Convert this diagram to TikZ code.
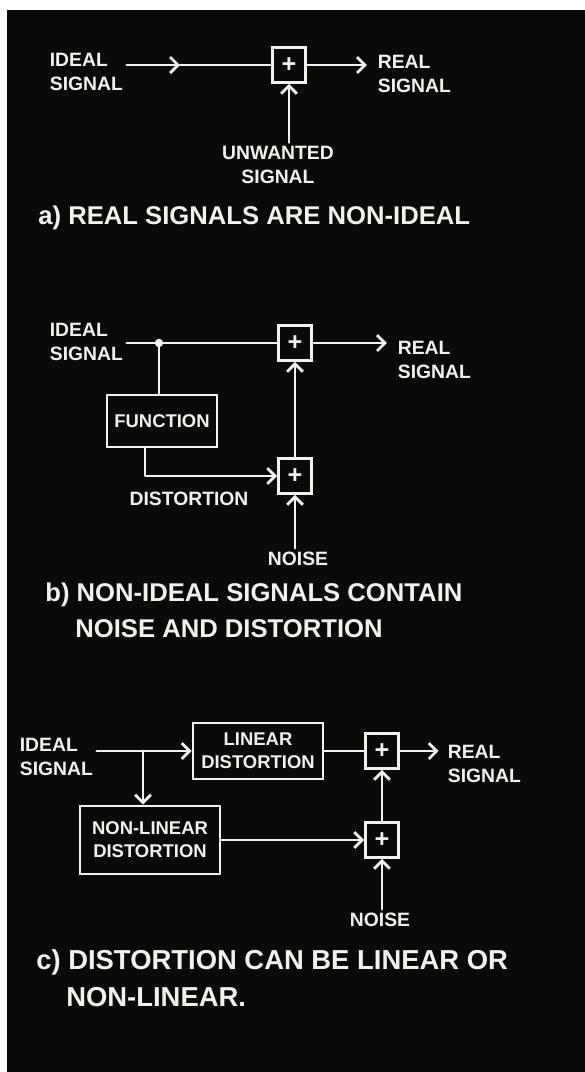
\documentclass[tikz,border=0pt]{standalone}
\usepackage{fontspec}
\setmainfont{Liberation Sans}
\usepackage{tikz}
\usepackage{xcolor}
\definecolor{chalkwhite}{RGB}{242, 242, 236}
\definecolor{boardblack}{RGB}{10, 10, 8}
\usetikzlibrary{arrows.meta,positioning,calc}

\begin{document}
\begin{tikzpicture}[x=0.02cm, y=-0.02cm,
    >={Straight Barb[length=4.5pt,width=9pt]},
    wire/.style={chalkwhite, line width=1.6pt, line cap=round, line join=round},
    lbl/.style={text=chalkwhite, font=\fontsize{11}{13.5}\selectfont\bfseries, align=left, inner sep=2pt},
    captxt/.style={text=chalkwhite, font=\fontsize{14.6}{20.5}\selectfont\bfseries, align=left, anchor=west, inner sep=0pt},
    sumbox/.style={draw=chalkwhite, line width=1.6pt, text=chalkwhite, minimum width=0.66cm, minimum height=0.7cm, inner sep=0pt, font=\Large\bfseries},
    blockbox/.style={draw=chalkwhite, line width=1.6pt, text=chalkwhite, align=center, inner sep=2pt, font=\fontsize{10.5}{13}\selectfont\bfseries}]

    % Board
    \fill[white] (0,0) rectangle (585,1072);
    \fill[boardblack] (7,10) rectangle (585,1072);
    \useasboundingbox (0,0) rectangle (585,1072);

    % a) Ideal signal plus unwanted signal
    \node[lbl, anchor=west] (idealA) at (46,72) {IDEAL\\SIGNAL};
    \node[sumbox] (sumA) at (289,65) {+};
    \node[lbl, anchor=west] (realA) at (374,74) {REAL\\SIGNAL};
    \node[lbl, align=center] (unwA) at (278,165) {UNWANTED\\SIGNAL};
    \coordinate (midA) at (180,65);
    \draw[wire, ->] (idealA.east |- sumA) -- (midA);
    \draw[wire] (midA) -- (sumA.west);
    \draw[wire, ->, shorten >=4pt] (sumA.east) -- (realA.west |- sumA);
    \draw[wire, ->] (sumA.south |- unwA.north) -- (sumA.south);
    \node[captxt] (capA) at (38,218) {a) REAL SIGNALS ARE NON-IDEAL};

    % b) Noise and distortion
    \node[lbl, anchor=west] (idealB) at (46,342) {IDEAL\\SIGNAL};
    \node[sumbox] (sumB1) at (295,343) {+};
    \node[sumbox] (sumB2) at (295,476) {+};
    \node[blockbox, minimum width=2.2cm, minimum height=1.04cm] (func) at (162,421) {FUNCTION};
    \node[lbl, anchor=west] (realB) at (394,360) {REAL\\SIGNAL};
    \node[lbl] (distB) at (189,499) {DISTORTION};
    \node[lbl] (noiseB) at (298,559) {NOISE};
    \coordinate (jB) at (159,343);
    \draw[wire] (idealB.east |- sumB1) -- (sumB1.west);
    \fill[chalkwhite] (jB) circle (2.4pt);
    \draw[wire] (jB) -- (jB |- func.north);
    \draw[wire, ->] ([xshift=-0.34cm]func.south) |- (sumB2.west);
    \draw[wire, ->] (sumB2.north) -- (sumB1.south);
    \draw[wire, ->] (sumB2.south |- noiseB.north) -- (sumB2.south);
    \draw[wire, ->, shorten >=4pt] (sumB1.east) -- (realB.west |- sumB1);
    \node[captxt] (capB) at (45,610) {b) NON-IDEAL SIGNALS CONTAIN\\\hspace*{0.6cm}NOISE AND DISTORTION};

    % c) Linear and non-linear distortion
    \node[lbl, anchor=west] (idealC) at (16,757) {IDEAL\\SIGNAL};
    \node[blockbox, minimum width=2.6cm, minimum height=1.12cm] (linC) at (258,751) {LINEAR\\DISTORTION};
    \node[sumbox] (sumC1) at (382,751) {+};
    \node[sumbox] (sumC2) at (382,840) {+};
    \node[blockbox, minimum width=2.8cm, minimum height=1.36cm] (nonlinC) at (150,840) {NON-LINEAR\\DISTORTION};
    \node[lbl, anchor=west] (realC) at (444,764) {REAL\\SIGNAL};
    \node[lbl] (noiseC) at (380,920) {NOISE};
    \coordinate (jC) at (143,751);
    \draw[wire, ->] (idealC.east |- linC) -- (linC.west);
    \draw[wire, ->] (jC) -- (jC |- nonlinC.north);
    \draw[wire] (linC.east) -- (sumC1.west);
    \draw[wire, ->] (nonlinC.east) -- (sumC2.west);
    \draw[wire, ->] (sumC2.north) -- (sumC1.south);
    \draw[wire, ->] (sumC2.south |- noiseC.north) -- (sumC2.south);
    \draw[wire, ->, shorten >=3pt] (sumC1.east) -- (realC.west |- sumC1);
    \node[captxt, font=\fontsize{15.6}{21}\selectfont\bfseries] (capC) at (36,978) {c) DISTORTION CAN BE LINEAR OR\\\hspace*{0.6cm}NON-LINEAR.};
\end{tikzpicture}
\end{document}
